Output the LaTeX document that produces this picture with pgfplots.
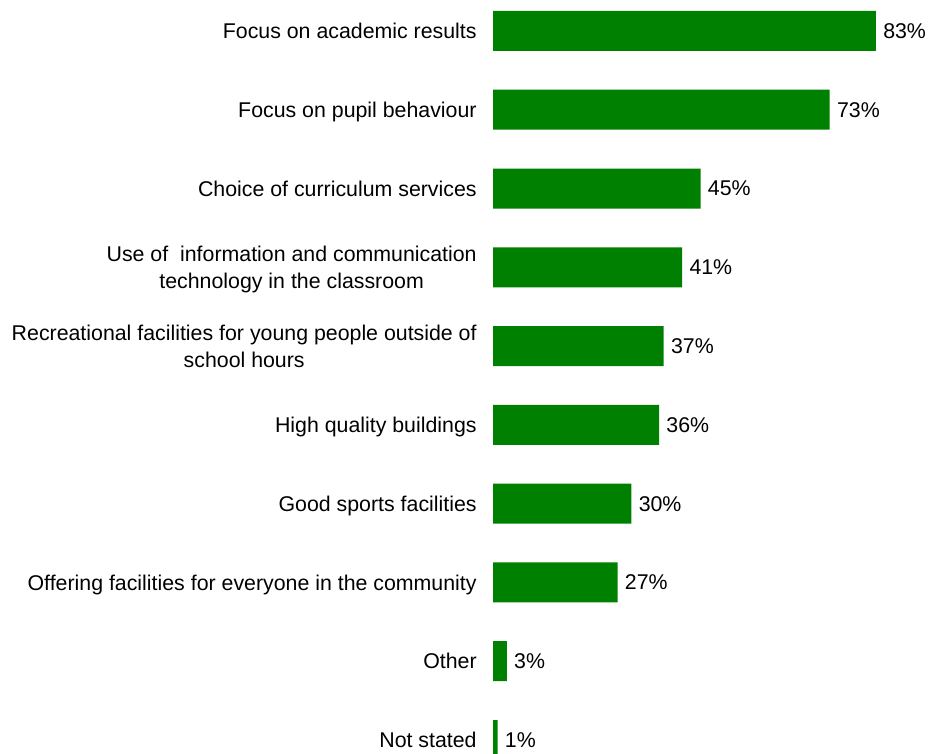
\documentclass[border=0pt]{standalone}
\usepackage{pgfplots}
\pgfplotsset{compat=1.18}
\usepackage{fontspec}
\setmainfont{Liberation Sans}
\definecolor{bargreen}{HTML}{008000}
% label text without depth, so labels with descenders sit like the others
\newcommand{\nd}[1]{\raisebox{0pt}[\height][0pt]{#1}}
\begin{document}
\fontsize{16}{20.25}\selectfont
\begin{tikzpicture}
\begin{axis}[
    xbar,
    scale only axis,
    width = 326.25pt,
    height = 564.75pt,
    xmin = 0, xmax = 94.3,
    ymin = -0.393, ymax = 9.165,
    y dir = reverse,
    axis line style = {draw=none},
    xtick = \empty,
    major tick length = 0pt,
    tick style = {draw=none},
    bar width = 30pt,
    ytick = {0,1,2,3,4,5,6,7,8,9},
    yticklabels = {
        \nd{Focus on academic results},
        \nd{Focus on pupil behaviour},
        \nd{Choice of curriculum services},
        {Use of\ \ information and communication\\\nd{technology in the classroom}},
        {Recreational facilities for young people outside of\\\nd{school hours}},
        \nd{High quality buildings},
        \nd{Good sports facilities},
        \nd{Offering facilities for everyone in the community},
        \nd{Other},
        \nd{Not stated}},
    yticklabel style = {align=center, font=\fontsize{16}{20.25}\selectfont},
    every y tick label/.append style = {anchor=east, xshift=-6.75pt},
    nodes near coords = {\pgfmathprintnumber{\pgfplotspointmeta}\%},
    nodes near coords style = {anchor=west, font=\fontsize{16}{20.25}\selectfont},
    /pgf/number format/assume math mode = true,
]
\addplot[fill=bargreen, draw=none] coordinates {
    (83,0) (73,1) (45,2) (41,3) (37,4) (36,5) (30,6) (27,7) (3,8) (1,9)
};
\end{axis}
\pgfresetboundingbox
\path ([xshift=-369.75pt]current axis.south west) rectangle (current axis.north east);
\end{tikzpicture}
\end{document}
